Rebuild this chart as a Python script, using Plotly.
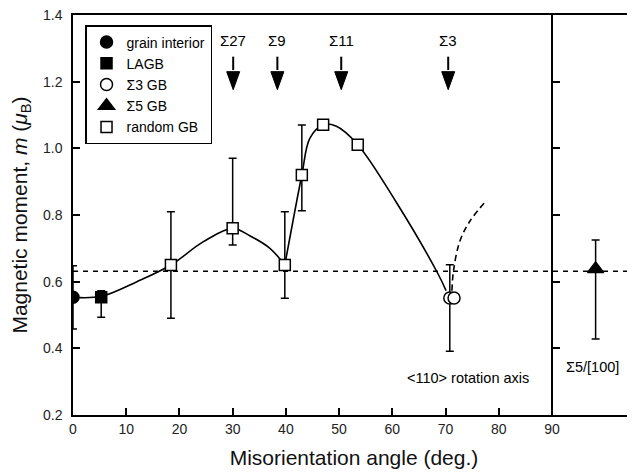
import plotly.graph_objects as go

# ---------------- data ----------------
gi_x = [0.0]
gi_y = [0.553]
gi_err_plus = [0.095]
gi_err_minus = [0.095]

lagb_x = [5.3]
lagb_y = [0.553]
lagb_err_plus = [0.02]
lagb_err_minus = [0.06]

s3_x = [70.8, 71.6]
s3_y = [0.551, 0.551]
s3_err_plus = [0.10, 0.0]
s3_err_minus = [0.16, 0.0]

s5_x = [98.2]
s5_y = [0.638]
s5_err_plus = [0.087]
s5_err_minus = [0.21]

rnd_x = [18.4, 30.0, 39.8, 43.0, 47.0, 53.5]
rnd_y = [0.65, 0.76, 0.65, 0.92, 1.071, 1.011]
rnd_err_plus = [0.16, 0.21, 0.16, 0.15, 0.0, 0.0]
rnd_err_minus = [0.16, 0.05, 0.10, 0.107, 0.0, 0.0]

# guide-to-the-eye curves
fitA_x = [0.0, 5.3, 12.0, 18.4, 24.5, 30.0, 33.3, 37.0, 39.8]
fitA_y = [0.553, 0.556, 0.60, 0.65, 0.72, 0.76, 0.737, 0.70, 0.65]
fitB_x = [39.8, 43.0, 44.5, 47.0, 49.5, 53.5, 60.6, 68.6, 70.1]
fitB_y = [0.65, 0.92, 1.03, 1.071, 1.066, 1.011, 0.842, 0.623, 0.573]
dash_x = [71.2, 71.5, 72.7, 74.6, 77.7]
dash_y = [0.573, 0.633, 0.722, 0.782, 0.844]

ref_level = 0.631

sigma_labels = ["Σ27", "Σ9", "Σ11", "Σ3"]
sigma_angles = [30.1, 38.4, 50.4, 70.5]

x_ticks = [0, 10, 20, 30, 40, 50, 60, 70, 80, 90]
y_ticks = [0.2, 0.4, 0.6, 0.8, 1.0, 1.2, 1.4]
x_max = 105.6
y_min, y_max = 0.2, 1.4

FONT = "Liberation Sans, Arial, sans-serif"

fig = go.Figure()

# curves
fig.add_trace(go.Scatter(x=fitA_x, y=fitA_y, mode="lines", line=dict(color="black", width=1.6, shape="spline", smoothing=1.0),
                         showlegend=False, hoverinfo="skip"))
fig.add_trace(go.Scatter(x=fitB_x, y=fitB_y, mode="lines", line=dict(color="black", width=1.6, shape="spline", smoothing=1.0),
                         showlegend=False, hoverinfo="skip"))
fig.add_trace(go.Scatter(x=dash_x, y=dash_y, mode="lines", line=dict(color="black", width=1.6, shape="spline", dash="6px,4px"),
                         showlegend=False, hoverinfo="skip"))

# arrows for special boundaries
shaft_top, head_top, tip = 1.275, 1.23, 1.176
half_w = 1.22
sx, sy, hx, hy = [], [], [], []
for a in sigma_angles:
    sx += [a, a, None]
    sy += [shaft_top, head_top + 0.005, None]
    hx += [a - half_w, a + half_w, a, a - half_w, None]
    hy += [head_top, head_top, tip, head_top, None]
fig.add_trace(go.Scatter(x=sx, y=sy, mode="lines", line=dict(color="black", width=2), showlegend=False, hoverinfo="skip"))
fig.add_trace(go.Scatter(x=hx, y=hy, mode="lines", fill="toself", fillcolor="black", line=dict(color="black", width=1),
                         showlegend=False, hoverinfo="skip"))

err_style = dict(type="data", symmetric=False, color="black", thickness=1.5, width=4)

def add_pts(x, y, ep, em, name, symbol, size, fill, yaxis="y"):
    fig.add_trace(go.Scatter(
        x=x, y=y, mode="markers", name=name, yaxis=yaxis,
        marker=dict(symbol=symbol, size=size, color=fill, line=dict(color="black", width=1.5)),
        error_y=dict(array=ep, arrayminus=em, **err_style),
    ))

add_pts(gi_x, gi_y, gi_err_plus, gi_err_minus, "grain interior", "circle", 12, "black")
add_pts(lagb_x, lagb_y, lagb_err_plus, lagb_err_minus, "LAGB", "square", 11, "black")
add_pts(s3_x, s3_y, s3_err_plus, s3_err_minus, "Σ3 GB", "circle", 12, "white")
add_pts(s5_x, s5_y, s5_err_plus, s5_err_minus, "Σ5 GB", "triangle-up", 14, "black", yaxis="y2")
add_pts(rnd_x, rnd_y, rnd_err_plus, rnd_err_minus, "random GB", "square", 11, "white")

fig.add_hline(y=ref_level, line=dict(color="black", width=1.5, dash="5px,5px"))

annotations = []
for lab, a in zip(sigma_labels, sigma_angles):
    annotations.append(dict(x=a, y=1.325, text=lab, showarrow=False, xref="x", yref="y",
                            font=dict(family=FONT, size=15, color="black")))
annotations.append(dict(x=74.3, y=0.311, text="&lt;110&gt; rotation axis", showarrow=False,
                        font=dict(family=FONT, size=14.5, color="black")))
annotations.append(dict(x=97.6, y=0.344, text="Σ5/[100]", showarrow=False,
                        font=dict(family=FONT, size=14.5, color="black")))

# page body adds an 8 px offset, so the figure is 8 px smaller than the window
fig.update_layout(
    width=627, height=464,
    margin=dict(l=65, r=0, t=7, b=57),
    paper_bgcolor="white", plot_bgcolor="white",
    font=dict(family=FONT, color="#111"),
    annotations=annotations,
    legend=dict(x=0.0214, y=0.975, xanchor="left", yanchor="top",
                bordercolor="black", borderwidth=1.5, bgcolor="white",
                font=dict(family=FONT, size=14, color="black"),
                tracegroupgap=0, itemwidth=30),
    xaxis=dict(range=[0, x_max], tickvals=x_ticks, ticks="inside", ticklen=7, tickwidth=1.5,
               tickcolor="black", showline=True, linecolor="black", linewidth=1.5, mirror=True,
               showgrid=False, zeroline=False, tickfont=dict(size=14, color="#222"), automargin=False,
               ticklabeloverflow="allow",
               title=dict(text="Misorientation angle (deg.)", font=dict(size=21, color="#111"))),
    yaxis=dict(range=[y_min, y_max], tickvals=y_ticks, tickformat=".1f", ticks="inside", ticklen=7,
               tickwidth=1.5, tickcolor="black", showline=True, linecolor="black", linewidth=1.5,
               showgrid=False, zeroline=False, tickfont=dict(size=14, color="#222"), ticklabelstandoff=6,
               automargin=False, ticklabeloverflow="allow",
               title=dict(text="Magnetic moment, <i>m</i> (<i>μ</i><sub>B</sub>)", font=dict(size=21, color="#111"))),
    yaxis2=dict(range=[y_min, y_max], overlaying="y", anchor="free", position=90 / x_max, side="right",
                tickvals=[0.4, 0.6, 0.8, 1.0, 1.2], ticks="outside", ticklen=7, tickwidth=1.5, tickcolor="black",
                showticklabels=False, showline=True, linecolor="black", linewidth=1.5, showgrid=False,
                zeroline=False, automargin=False),
)

fig.write_html("out.html")
